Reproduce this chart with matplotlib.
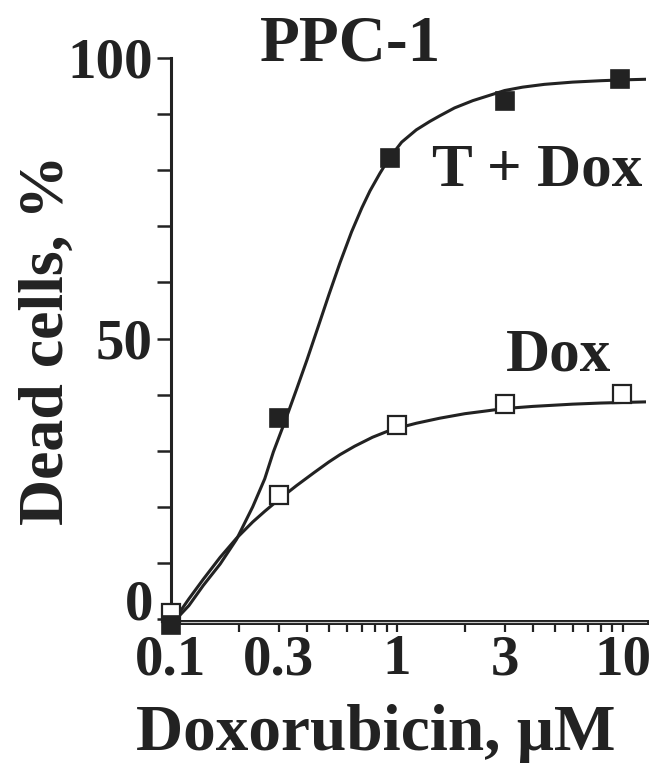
import numpy as np
import matplotlib.pyplot as plt
from matplotlib.lines import Line2D
import matplotlib.transforms as mtransforms

plt.rcParams['font.family'] = ['Liberation Serif', 'DejaVu Serif']
plt.rcParams['font.weight'] = 'bold'

ink = '#222222'

# measured points (dose in uM, dead cells in %)
dose_tdox = [0.1, 0.3, 0.93, 3.0, 9.7]
dead_tdox = [-1.0, 35.8, 82.1, 92.3, 96.3]
dose_dox = [0.1, 0.3, 1.0, 3.0, 9.9]
dead_dox = [1.0, 22.1, 34.6, 38.4, 40.1]

# fitted curves
curve_x_tdox = [0.1, 0.12, 0.139, 0.165, 0.195, 0.23, 0.26, 0.284, 0.32, 0.36, 0.4,
                0.45, 0.5, 0.56, 0.63, 0.7, 0.76, 0.84, 0.92, 1.05, 1.22, 1.4, 1.55,
                1.8, 2.17, 2.6, 3.0, 3.6, 4.5, 6.0, 8.0, 10.0, 12.5]
curve_y_tdox = [-1.0, 2.4, 6.0, 9.8, 14.2, 20.0, 25.0, 29.8, 35.3, 41.0, 46.2,
                52.3, 57.8, 63.5, 69.0, 73.3, 76.3, 79.4, 82.0, 85.0, 87.2, 88.7, 89.7,
                91.1, 92.4, 93.4, 94.2, 94.8, 95.3, 95.7, 95.95, 96.1, 96.2]
curve_x_dox = [0.1, 0.12, 0.139, 0.165, 0.195, 0.23, 0.26, 0.3, 0.36, 0.43, 0.5, 0.56,
               0.65, 0.78, 0.9, 1.0, 1.22, 1.55, 2.0, 2.5, 2.96, 4.0, 6.0, 8.0, 10.0, 12.5]
curve_y_dox = [-1.0, 3.6, 7.1, 11.0, 14.4, 17.3, 19.2, 21.3, 23.8, 26.1, 28.0, 29.3,
               30.8, 32.4, 33.4, 34.0, 34.9, 35.8, 36.6, 37.1, 37.5, 37.9, 38.3, 38.5, 38.6, 38.7]

xticks = [0.1, 0.2, 0.3, 0.4, 0.5, 0.6, 0.7, 0.8, 0.9,
          1, 2, 3, 4, 5, 6, 7, 8, 9, 10]
xlabels = {0.1: '0.1', 0.3: '0.3', 1: '1', 3: '3', 10: '10'}
yticks = [0, 10, 20, 30, 40, 50, 60, 70, 80, 90, 100]
ylabels = {0: '0', 50: '50', 100: '100'}

fig = plt.figure(figsize=(6.54, 7.63), dpi=100)
ax = fig.add_axes([0.2615, 0.185, 0.7265, 0.739])

ax.plot(curve_x_tdox, curve_y_tdox, color=ink, lw=2.2, zorder=3)
ax.plot(curve_x_dox, curve_y_dox, color=ink, lw=2.2, zorder=3)
ax.plot(dose_dox, dead_dox, 's', ms=13.5, mfc='white', mec=ink, mew=1.6,
        ls='none', zorder=4, clip_on=False)
ax.plot(dose_tdox, dead_tdox, 's', ms=13.5, mfc=ink, mec=ink, mew=1.2,
        ls='none', zorder=5, clip_on=False)

ax.set_xscale('log')
ax.set_xlim(0.1, 12.7)
ax.set_ylim(-0.5, 100)

ax.set_xticks(xticks)
ax.set_xticklabels([xlabels.get(t, '') for t in xticks])
ax.xaxis.set_minor_locator(plt.NullLocator())
ax.set_yticks(yticks)
ax.set_yticklabels([ylabels.get(t, '') for t in yticks])

ax.tick_params(axis='x', direction='out', length=7, width=1.6, color=ink,
               labelsize=41, pad=2, labelcolor=ink)
ax.tick_params(axis='y', direction='out', length=10, width=1.8, color=ink,
               labelsize=41, pad=3, labelcolor=ink)

# the "0" label sits a little above its tick
for lab in ax.get_yticklabels():
    if lab.get_text() == '0':
        lab.set_transform(lab.get_transform() +
                          mtransforms.ScaledTranslation(0, 14 / 72, fig.dpi_scale_trans))

for s in ['top', 'right']:
    ax.spines[s].set_visible(False)
ax.spines['left'].set_linewidth(2.2)
ax.spines['left'].set_color(ink)
ax.spines['bottom'].set_linewidth(3.6)
ax.spines['bottom'].set_color(ink)
# the thin light line inside the double bottom axis
ax.add_line(Line2D([0.01, 1], [0, 0], transform=ax.transAxes, color='#c8c8c8',
                   lw=0.8, zorder=3, clip_on=False))

ax.set_xlabel('Doxorubicin, \u03bcM', fontsize=47, fontweight='bold', color=ink)
ax.xaxis.set_label_coords(0.43, -0.145)
ax.set_ylabel('Dead cells, %', fontsize=46, fontweight='bold', color=ink)
ax.yaxis.set_label_coords(-0.198, 0.5)
ax.set_title('PPC-1', fontsize=47, fontweight='bold', color=ink, x=0.377, y=0.995, pad=0)

ax.text(4.2, 80, 'T + Dox', fontsize=44, color=ink, ha='center', va='center')
ax.text(5.2, 47, 'Dox', fontsize=44, color=ink, ha='center', va='center')

fig.savefig('out.png', dpi=100)
